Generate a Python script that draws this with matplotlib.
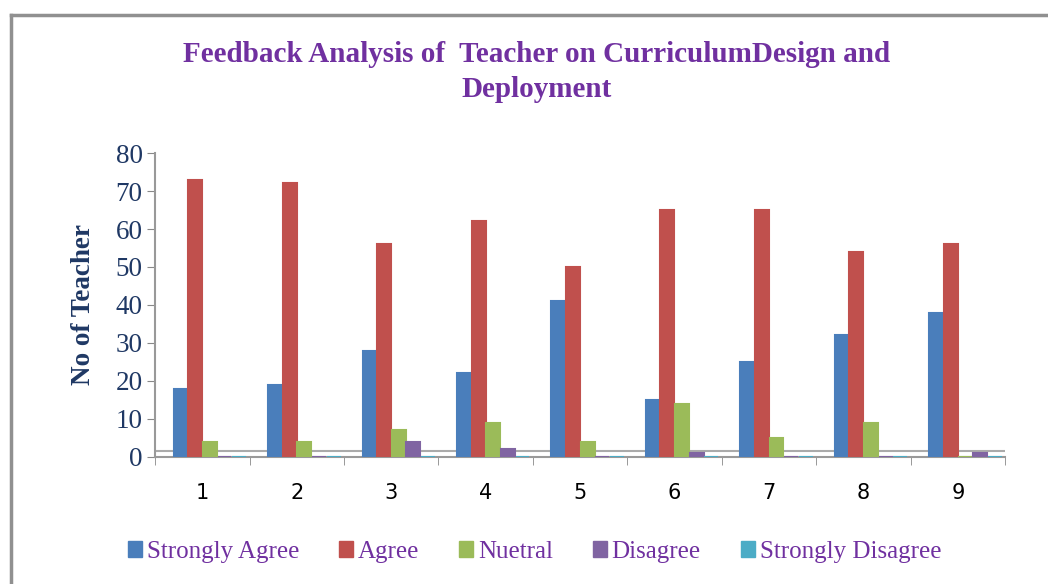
import numpy as np
import matplotlib.pyplot as plt
from matplotlib.lines import Line2D
from matplotlib.patches import Patch

categories = ["1", "2", "3", "4", "5", "6", "7", "8", "9"]
strongly_agree = [18, 19, 28, 22, 41, 15, 25, 32, 38]
agree = [73, 72, 56, 62, 50, 65, 65, 54, 56]
neutral = [4, 4, 7, 9, 4, 14, 5, 9, 0]
disagree = [0, 0, 4, 2, 0, 1, 0, 0, 1]
strongly_disagree = [0, 0, 0, 0, 0, 0, 0, 0, 0]

series = [
    ("Strongly Agree", strongly_agree, "#4a7ebb"),
    ("Agree", agree, "#c0504d"),
    ("Nuetral", neutral, "#9bbb59"),
    ("Disagree", disagree, "#8064a2"),
    ("Strongly Disagree", strongly_disagree, "#4bacc6"),
]

serif = "Liberation Serif"
purple = "#7030a0"
navy = "#1f3864"

fig = plt.figure(figsize=(10.48, 5.84), dpi=100)
ax = fig.add_axes([0.148, 0.2175, 0.811, 0.5205])

x = np.arange(len(categories))
w = 0.155
for i, (name, vals, col) in enumerate(series):
    pos = x + (i - 2) * w + 0.08
    ax.bar(pos, vals, width=w * 0.95, color=col, edgecolor=col,
           linewidth=1.5, zorder=3)

ax.set_xlim(-0.5, len(categories) - 0.5)
ax.set_ylim(0, 80)
ax.set_yticks(range(0, 81, 10))
ax.set_xticks(x)
ax.set_xticklabels(categories, fontsize=15, fontfamily="DejaVu Sans")
ax.set_xticks(np.arange(-0.5, len(categories)), minor=True)
ax.tick_params(axis="x", which="major", length=0, pad=19)
ax.tick_params(axis="x", which="minor", length=6, color="#888888")
ax.tick_params(axis="y", length=6, color="#888888", labelsize=19.5,
               labelcolor=navy, pad=3)
for lab in ax.get_yticklabels():
    lab.set_fontfamily(serif)

for s in ["top", "right"]:
    ax.spines[s].set_visible(False)
for s in ["left", "bottom"]:
    ax.spines[s].set_color("#999999")
    ax.spines[s].set_linewidth(1.5)

# back edge of the 3D floor
ax.axhline(1.6, color="#aaaaaa", lw=1.5, zorder=1)

ax.set_ylabel("No of Teacher", fontfamily=serif, fontweight="bold",
              fontsize=19.5, color=navy, labelpad=14)

fig.text(0.512, 0.906, "Feedback Analysis of  Teacher on CurriculumDesign and",
         ha="center", va="center", fontfamily=serif, fontweight="bold",
         fontsize=21, color=purple)
fig.text(0.512, 0.847, "Deployment", ha="center", va="center",
         fontfamily=serif, fontweight="bold", fontsize=21, color=purple)

handles = [Patch(color=c) for _, _, c in series]
leg = fig.legend(handles, [n for n, _, _ in series], loc="center",
                 bbox_to_anchor=(0.51, 0.055), ncol=5, frameon=False,
                 prop={"family": serif, "size": 18}, handlelength=0.55,
                 handleheight=0.6, handletextpad=0.2, columnspacing=1.6)
for t in leg.get_texts():
    t.set_color(purple)

# outer frame (left and top visible)
fig.add_artist(Line2D([0.0105, 0.0105], [0.0, 0.975], color="#909090", lw=2.5,
                      transform=fig.transFigure))
fig.add_artist(Line2D([0.0105, 1.0], [0.975, 0.975], color="#909090", lw=2.5,
                      transform=fig.transFigure))

fig.savefig("out.png", dpi=100)
